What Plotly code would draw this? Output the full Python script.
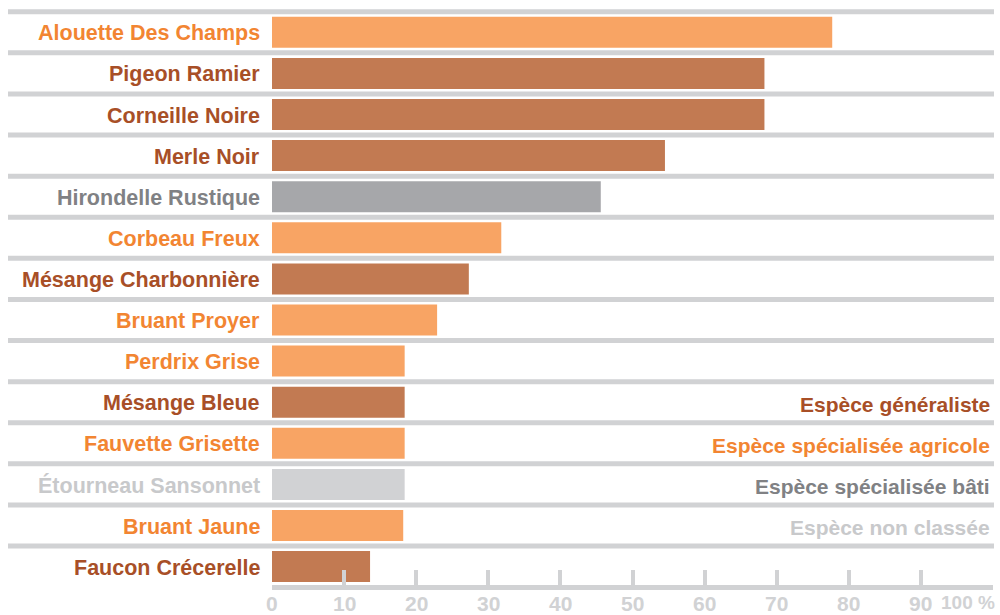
import plotly.graph_objects as go

species = ["Alouette Des Champs", "Pigeon Ramier", "Corneille Noire", "Merle Noir",
           "Hirondelle Rustique", "Corbeau Freux", "Mésange Charbonnière", "Bruant Proyer",
           "Perdrix Grise", "Mésange Bleue", "Fauvette Grisette", "Étourneau Sansonnet",
           "Bruant Jaune", "Faucon Crécerelle"]
values = [77.7, 68.3, 68.3, 54.5, 45.6, 31.8, 27.3, 22.9, 18.4, 18.4, 18.4, 18.4, 18.2, 13.6]
groups = ["agri", "gen", "gen", "gen", "bati", "agri", "gen", "agri",
          "agri", "gen", "agri", "non", "agri", "gen"]

legend_keys = ["gen", "agri", "bati", "non"]
legend_texts = ["Espèce généraliste", "Espèce spécialisée agricole",
                "Espèce spécialisée bâti", "Espèce non classée"]
legend_rows = [9, 10, 11, 12]

x_ticks = [0, 10, 20, 30, 40, 50, 60, 70, 80, 90, 100]
x_ticktext = ["0", "10", "20", "30", "40", "50", "60", "70", "80", "90", "100 %"]

bar_colors = {"agri": "#F8A464", "gen": "#C27A52", "bati": "#A6A7AA", "non": "#D1D2D4"}
text_colors = {"agri": "#F28532", "gen": "#A84F27", "bati": "#808184", "non": "#C8C9CB"}
GRID = "#D1D2D4"
FONT = "Liberation Sans, Arial, sans-serif"

W, H = 1000, 615
ML, MR, MT, MB = 272, 7, 0, 30
plot_w = W - ML - MR
row0, pitch = 32.3, 41.1
plot_h = H - MT - MB
y_bottom = (plot_h - row0) / pitch
y_top = -row0 / pitch

fig = go.Figure()
fig.add_trace(go.Bar(
    x=values, y=list(range(len(species))), orientation="h",
    marker=dict(color=[bar_colors[g] for g in groups], line=dict(width=0)),
    hoverinfo="skip", showlegend=False,
))

shapes = []
for i in range(len(species)):
    shapes.append(dict(type="line", xref="paper", yref="y",
                       x0=(8 - ML) / plot_w, x1=(994 - ML) / plot_w,
                       y0=i - 0.5, y1=i - 0.5,
                       line=dict(color=GRID, width=5), layer="below"))

annotations = []
for i, (name, g) in enumerate(zip(species, groups)):
    annotations.append(dict(xref="paper", yref="y", x=(262 - ML) / plot_w, y=i,
                            text="<b>" + name + "</b>", showarrow=False,
                            xanchor="right", yanchor="middle", yshift=-1,
                            font=dict(family=FONT, size=21.5, color=text_colors[g])))
for key, txt, row in zip(legend_keys, legend_texts, legend_rows):
    annotations.append(dict(xref="paper", yref="y", x=(992 - ML) / plot_w, y=row,
                            text="<b>" + txt + "</b>", showarrow=False,
                            xanchor="right", yanchor="middle", yshift=-2,
                            font=dict(family=FONT, size=21, color=text_colors[key])))
for v, t in zip(x_ticks, x_ticktext):
    last = v == x_ticks[-1]
    annotations.append(dict(xref="x", yref="paper", x=v, y=0, text="<b>" + t + "</b>",
                            showarrow=False, xanchor="right" if last else "center",
                            yanchor="top", xshift=4 if last else 0, yshift=-5,
                            font=dict(family=FONT, size=19 if last else 21, color=GRID)))

fig.update_layout(
    template="none",
    width=W, height=H, margin=dict(l=ML, r=MR, t=MT, b=MB, autoexpand=False),
    paper_bgcolor="white", plot_bgcolor="white",
    bargap=0.246, showlegend=False,
    shapes=shapes, annotations=annotations,
    xaxis=dict(range=[0, 100], tickvals=x_ticks, showticklabels=False,
               showgrid=False, zeroline=False, showline=True, linewidth=5, linecolor=GRID,
               ticks="inside", ticklen=15, tickwidth=4, tickcolor=GRID,
               automargin=False, fixedrange=True),
    yaxis=dict(range=[y_bottom, y_top], showticklabels=False, showgrid=False,
               zeroline=False, showline=False, ticks="", automargin=False, fixedrange=True),
)

fig.write_html("out.html", config={"displayModeBar": False},
               post_script="document.body.style.margin='0';document.body.style.overflow='hidden';")
